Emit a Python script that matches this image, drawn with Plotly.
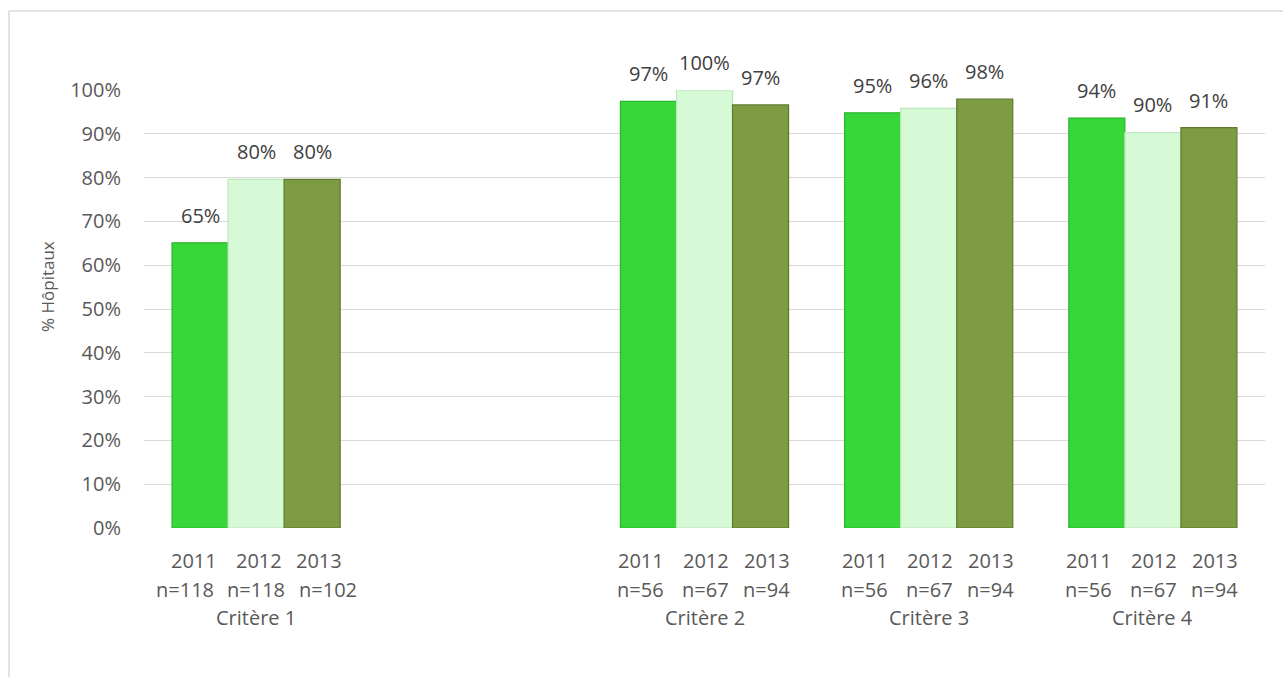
import plotly.graph_objects as go

# ---- data ----
criteria = ["Critère 1", "(vide)", "Critère 2", "Critère 3", "Critère 4"]
years = ["2011", "2012", "2013"]
values_2011 = [0.651, None, 0.974, 0.948, 0.936]
values_2012 = [0.796, None, 1.000, 0.958, 0.903]
values_2013 = [0.796, None, 0.966, 0.979, 0.914]
n_2011 = ["n=118", None, "n=56", "n=56", "n=56"]
n_2012 = ["n=118", None, "n=67", "n=67", "n=67"]
n_2013 = ["n=102", None, "n=94", "n=94", "n=94"]

series = [values_2011, values_2012, values_2013]
ns = [n_2011, n_2012, n_2013]
colors = ["#37D73A", "#D5FAD5", "#7D9B40"]
line_colors = ["#2BB52E", "#BCE6BC", "#5F7A2E"]

FONT = "Open Sans"
W, H = 1284, 677
ML, MR, MT, MB = 144, 19, 90, 149
BARGAP = 0.25
plot_w = W - ML - MR
plot_h = H - MT - MB
bar_px = plot_w / len(criteria) * (1 - BARGAP) / len(years)

# horizontal spread (px) of the axis labels under each group (Excel spreads them wider)
year_spread_wide = [-62, 3, 63]
n_spread_wide = [-71, 0, 72]
spread_normal = [-64, 1, 62]

fig = go.Figure()
for j, (yr, vals) in enumerate(zip(years, series)):
    fig.add_trace(go.Bar(
        x=criteria, y=vals, name=yr,
        marker=dict(color=colors[j], line=dict(color=line_colors[j], width=1.2)),
        showlegend=False, hoverinfo="skip",
    ))

annotations = []
for i, crit in enumerate(criteria):
    if series[0][i] is None:
        continue
    wide = len(ns[0][i]) > 4
    ys = year_spread_wide if wide else spread_normal
    nsp = n_spread_wide if wide else spread_normal
    for j, yr in enumerate(years):
        dx = (j - 1) * bar_px
        v = series[j][i]
        annotations.append(dict(
            x=crit, xref="x", y=v, yref="y", xshift=dx, yshift=12,
            yanchor="bottom", showarrow=False, text=f"{round(v * 100)}%",
            font=dict(family=FONT, size=20, color="#404040")))
        annotations.append(dict(
            x=crit, xref="x", y=0, yref="paper", xshift=ys[j], yshift=-32,
            yanchor="middle", showarrow=False, text=yr,
            font=dict(family=FONT, size=20, color="#595959")))
        annotations.append(dict(
            x=crit, xref="x", y=0, yref="paper", xshift=nsp[j], yshift=-61,
            yanchor="middle", showarrow=False, text=ns[j][i],
            font=dict(family=FONT, size=20, color="#595959")))
    annotations.append(dict(
        x=crit, xref="x", y=0, yref="paper", yshift=-89,
        yanchor="middle", showarrow=False, text=crit,
        font=dict(family=FONT, size=20, color="#595959")))

annotations.append(dict(
    x=(47 - ML) / plot_w, xref="paper", y=(H - MB - 287) / plot_h, yref="paper",
    text="% Hôpitaux", textangle=-90, showarrow=False,
    xanchor="center", yanchor="middle",
    font=dict(family=FONT, size=17, color="#595959")))

shapes = [
    dict(type="line", xref="paper", yref="paper",
         x0=(9 - ML) / plot_w, x1=(W - 1 - ML) / plot_w,
         y0=(H - MB - 11) / plot_h, y1=(H - MB - 11) / plot_h,
         line=dict(color="#D9D9D9", width=1.5)),
    dict(type="line", xref="paper", yref="paper",
         x0=(9 - ML) / plot_w, x1=(9 - ML) / plot_w,
         y0=(H - MB - 11) / plot_h, y1=(H - MB - H) / plot_h,
         line=dict(color="#D9D9D9", width=1.5)),
]

fig.update_layout(
    width=W, height=H,
    margin=dict(l=ML, r=MR, t=MT, b=MB, pad=0),
    barmode="group", bargap=BARGAP, bargroupgap=0,
    plot_bgcolor="white", paper_bgcolor="white",
    font=dict(family=FONT, size=20, color="#595959"),
    annotations=annotations, shapes=shapes,
    xaxis=dict(type="category", categoryorder="array", categoryarray=criteria,
               range=[-0.5, len(criteria) - 0.5], showticklabels=False,
               showgrid=False, showline=False, zeroline=False, ticks=""),
    yaxis=dict(range=[0, 1], dtick=0.1, tickformat=".0%",
               showgrid=True, gridcolor="#D9D9D9", gridwidth=1.3,
               zeroline=False, showline=False, ticks="",
               ticklabelstandoff=22,
               tickfont=dict(family=FONT, size=20, color="#595959")),
)

fig.write_html("out.html")
